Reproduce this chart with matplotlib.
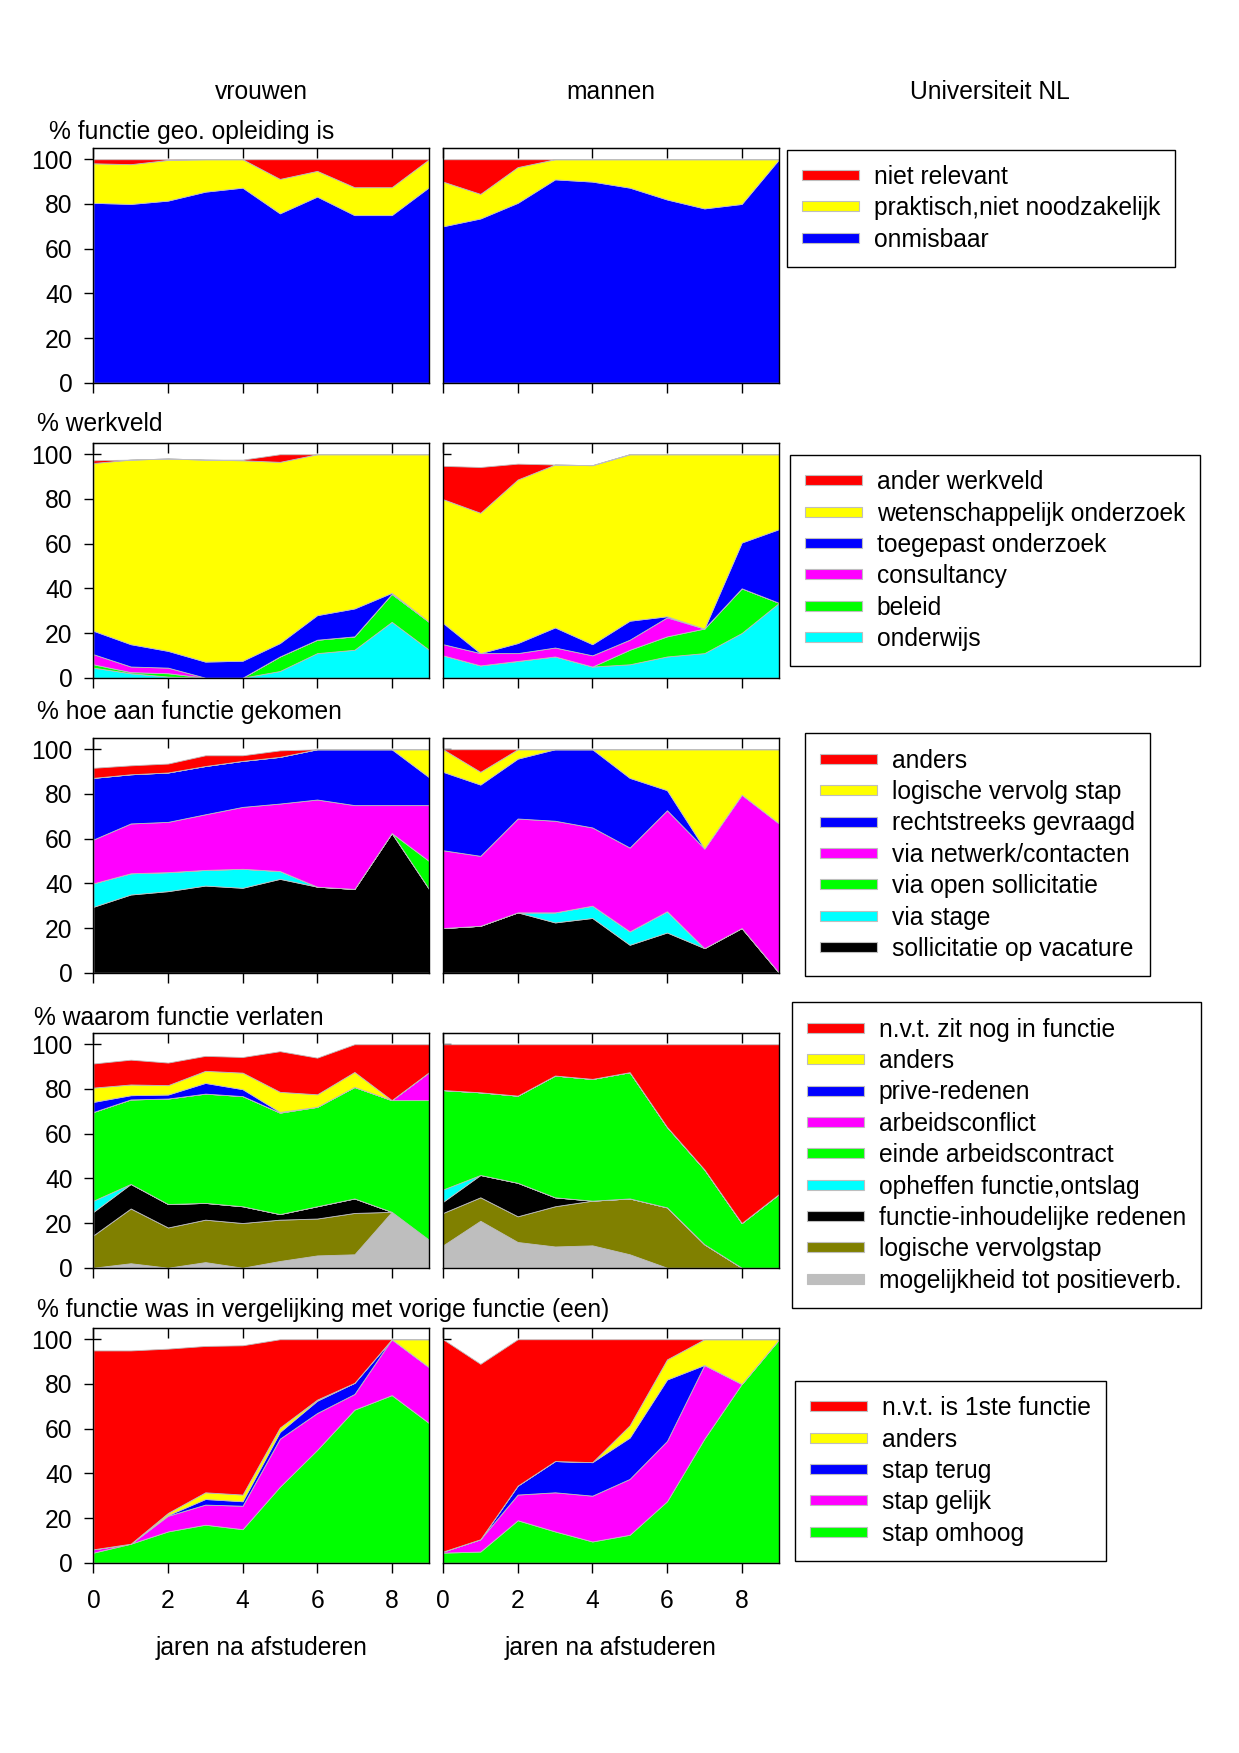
import numpy as np
import matplotlib
matplotlib.use('Agg')
import matplotlib.pyplot as plt
from matplotlib.patches import Patch

plt.rcParams['font.family'] = ['Liberation Sans', 'DejaVu Sans']

years = np.arange(10)  # jaren na afstuderen 0..9

# --- % functie geo. opleiding is (onder -> boven)
lab1 = ['onmisbaar', 'praktisch,niet noodzakelijk', 'niet relevant']
col1 = ['#0000ff', '#ffff00', '#ff0000']
v1_onmisbaar = [80.5, 80.0, 81.5, 85.5, 87.3, 75.8, 83.3, 75.0, 75.0, 87.5]
v1_praktisch = [17.7, 17.8, 18.2, 14.5, 12.7, 15.4, 11.5, 12.5, 12.5, 12.5]
v1_niet = [1.8, 2.2, 0.3, 0, 0, 8.8, 5.2, 12.5, 12.5, 0]
m1_onmisbaar = [70.0, 73.5, 80.5, 91.0, 90.0, 87.3, 82.0, 78.0, 80.0, 100]
m1_praktisch = [20.0, 11.0, 16.0, 9.0, 10.0, 12.7, 18.0, 22.0, 20.0, 0]
m1_niet = [10.0, 15.5, 3.5, 0, 0, 0, 0, 0, 0, 0]

# --- % werkveld
lab2 = ['onderwijs', 'beleid', 'consultancy', 'toegepast onderzoek',
        'wetenschappelijk onderzoek', 'ander werkveld']
col2 = ['#00ffff', '#00ff00', '#ff00ff', '#0000ff', '#ffff00', '#ff0000']
v2_onderwijs = [4.5, 2.0, 0.5, 0, 0, 3.0, 11.0, 12.5, 25.0, 12.5]
v2_beleid = [1.5, 0.5, 1.5, 0, 0, 6.5, 6.0, 6.0, 12.5, 12.5]
v2_consultancy = [4.5, 2.5, 2.5, 0, 0, 0, 0, 0, 0, 0]
v2_toegepast = [10.5, 10.0, 7.5, 7.2, 7.6, 6.0, 11.0, 12.5, 0.5, 0]
v2_wetensch = [75.1, 82.6, 86.1, 90.4, 89.7, 81.1, 72.0, 69.0, 62.0, 75.0]
v2_ander = [1.2, 0, 0, 0, 0.3, 3.4, 0, 0, 0, 0]
m2_onderwijs = [10.0, 5.5, 7.5, 9.5, 5.0, 6.0, 9.5, 11.0, 20.0, 33.5]
m2_beleid = [0, 0, 0, 0, 0, 6.5, 9.0, 11.0, 20.0, 0]
m2_consultancy = [5.0, 5.5, 3.5, 4.0, 5.0, 4.5, 8.5, 0, 0, 0]
m2_toegepast = [9.5, 0, 4.5, 9.0, 5.0, 8.5, 0.5, 0, 20.5, 33.0]
m2_wetensch = [55.4, 62.8, 73.2, 72.9, 80.1, 74.5, 72.5, 78.0, 39.5, 33.5]
m2_ander = [14.9, 20.5, 7.1, 0, 0, 0, 0, 0, 0, 0]

# --- % hoe aan functie gekomen
lab3 = ['sollicitatie op vacature', 'via stage', 'via open sollicitatie',
        'via netwerk/contacten', 'rechtstreeks gevraagd', 'logische vervolg stap', 'anders']
col3 = ['#000000', '#00ffff', '#00ff00', '#ff00ff', '#0000ff', '#ffff00', '#ff0000']
v3_vacature = [29.5, 35.0, 36.5, 39.0, 38.0, 42.0, 38.5, 37.5, 62.5, 37.5]
v3_stage = [10.5, 9.5, 8.5, 7.0, 8.5, 3.5, 0, 0, 0, 0]
v3_open = [0, 0, 0, 0, 0, 0, 0, 0, 0, 12.5]
v3_netwerk = [19.6, 22.3, 22.5, 24.9, 27.7, 30.2, 39.0, 37.5, 12.5, 25.0]
v3_rechtstreeks = [27.6, 22.0, 22.1, 21.6, 20.6, 20.9, 22.5, 25.0, 25.0, 12.5]
v3_logisch = [0, 0, 0, 0, 0, 0, 0, 0, 0, 12.5]
v3_anders = [4.5, 4.0, 4.0, 4.8, 2.5, 2.9, 0, 0, 0, 0]
m3_vacature = [20.0, 21.0, 27.0, 22.5, 24.5, 12.5, 18.0, 11.0, 20.0, 0]
m3_stage = [0, 0, 0, 4.5, 5.5, 6.0, 9.5, 0, 0, 0]
m3_open = [0, 0, 0, 0, 0, 0, 0, 0, 0, 0]
m3_netwerk = [34.8, 31.3, 42.0, 41.0, 35.0, 37.5, 45.2, 44.6, 59.7, 66.8]
m3_rechtstreeks = [35.1, 31.9, 26.8, 32.0, 35.0, 31.2, 9.0, 0, 0, 0]
m3_logisch = [10.1, 5.7, 4.2, 0, 0, 12.8, 18.3, 44.4, 20.3, 33.2]
m3_anders = [0, 10.1, 0, 0, 0, 0, 0, 0, 0, 0]

# --- % waarom functie verlaten
lab4 = ['mogelijkheid tot positieverb.', 'logische vervolgstap', 'functie-inhoudelijke redenen',
        'opheffen functie,ontslag', 'einde arbeidscontract', 'arbeidsconflict',
        'prive-redenen', 'anders', 'n.v.t. zit nog in functie']
col4 = ['#bebebe', '#808000', '#000000', '#00ffff', '#00ff00', '#ff00ff',
        '#0000ff', '#ffff00', '#ff0000']
v4_positie = [0, 2.0, 0, 2.5, 0, 3.0, 5.5, 6.0, 25.0, 12.5]
v4_logisch = [14.5, 24.5, 18.0, 19.0, 20.0, 18.5, 16.5, 18.5, 0, 0]
v4_inhoud = [10.5, 11.0, 10.5, 7.5, 7.5, 2.5, 5.5, 6.5, 0, 0]
v4_opheffen = [5.0, 0, 0, 0, 0, 0, 0, 0, 0, 0]
v4_einde = [39.7, 37.8, 47.2, 48.9, 49.3, 45.4, 44.5, 49.9, 50.0, 62.5]
v4_conflict = [0, 0, 0, 0, 0, 0, 0, 0, 0, 12.5]
v4_prive = [4.5, 1.9, 1.8, 4.8, 3.1, 0.3, 0, 0, 0, 0]
v4_anders = [6.4, 4.8, 4.2, 5.4, 7.4, 9.0, 5.6, 6.7, 0, 0]
v4_nvt = [10.8, 11.1, 10.1, 6.7, 7.0, 18.2, 16.4, 12.4, 25.0, 12.5]
m4_positie = [10.0, 21.0, 11.5, 9.5, 10.0, 6.0, 0, 0, 0, 0]
m4_logisch = [14.5, 10.5, 11.5, 18.0, 20.0, 25.0, 27.0, 10.5, 0, 0]
m4_inhoud = [5.0, 10.0, 15.0, 4.0, 0, 0, 0, 0, 0, 0]
m4_opheffen = [5.5, 0, 0, 0, 0, 0, 0, 0, 0, 0]
m4_einde = [44.5, 37.0, 39.0, 54.5, 54.5, 56.5, 36.0, 33.5, 20.0, 33.0]
m4_conflict = [0, 0, 0, 0, 0, 0, 0, 0, 0, 0]
m4_prive = [0, 0, 0, 0, 0, 0, 0, 0, 0, 0]
m4_anders = [0, 0, 0, 0, 0, 0, 0, 0, 0, 0]
m4_nvt = [20.5, 21.5, 23.0, 14.0, 15.5, 12.5, 37.0, 56.0, 80.0, 67.0]

# --- % functie was in vergelijking met vorige functie (een)
lab5 = ['stap omhoog', 'stap gelijk', 'stap terug', 'anders', 'n.v.t. is 1ste functie']
col5 = ['#00ff00', '#ff00ff', '#0000ff', '#ffff00', '#ff0000']
v5_omhoog = [4.5, 8.5, 14.0, 17.0, 15.0, 34.0, 50.5, 68.5, 75.0, 62.5]
v5_gelijk = [1.5, 0, 7.0, 9.0, 10.5, 21.5, 16.5, 7.0, 25.0, 25.0]
v5_terug = [0, 0, 0.3, 2.5, 2.0, 3.0, 5.5, 5.0, 0, 0]
v5_anders = [0, 0, 1.0, 3.0, 3.0, 2.0, 0.5, 0, 0, 12.5]
v5_nvt = [89.0, 86.5, 73.5, 65.5, 66.8, 39.5, 27.0, 19.5, 0, 0]
m5_omhoog = [4.5, 5.0, 19.0, 14.0, 9.5, 12.5, 27.5, 55.5, 80.0, 100]
m5_gelijk = [0.5, 5.5, 11.5, 17.5, 20.5, 25.0, 27.0, 33.0, 0, 0]
m5_terug = [0, 0, 4.0, 14.0, 15.0, 18.5, 27.5, 0, 0, 0]
m5_anders = [0, 0, 0, 0, 0, 5.5, 9.0, 11.5, 20.0, 0]
m5_nvt = [95.0, 78.5, 65.5, 54.5, 55.0, 38.5, 9.0, 0, 0, 0]

rows = [
    ('% functie geo. opleiding is', lab1, col1,
     [v1_onmisbaar, v1_praktisch, v1_niet], [m1_onmisbaar, m1_praktisch, m1_niet]),
    ('% werkveld', lab2, col2,
     [v2_onderwijs, v2_beleid, v2_consultancy, v2_toegepast, v2_wetensch, v2_ander],
     [m2_onderwijs, m2_beleid, m2_consultancy, m2_toegepast, m2_wetensch, m2_ander]),
    ('% hoe aan functie gekomen', lab3, col3,
     [v3_vacature, v3_stage, v3_open, v3_netwerk, v3_rechtstreeks, v3_logisch, v3_anders],
     [m3_vacature, m3_stage, m3_open, m3_netwerk, m3_rechtstreeks, m3_logisch, m3_anders]),
    ('% waarom functie verlaten', lab4, col4,
     [v4_positie, v4_logisch, v4_inhoud, v4_opheffen, v4_einde, v4_conflict, v4_prive, v4_anders, v4_nvt],
     [m4_positie, m4_logisch, m4_inhoud, m4_opheffen, m4_einde, m4_conflict, m4_prive, m4_anders, m4_nvt]),
    ('% functie was in vergelijking met vorige functie (een)', lab5, col5,
     [v5_omhoog, v5_gelijk, v5_terug, v5_anders, v5_nvt],
     [m5_omhoog, m5_gelijk, m5_terug, m5_anders, m5_nvt]),
]

# layout in pixels
W, H = 1239, 1753
FS = 17.7
row_top = [148.3, 443.3, 738.3, 1033.3, 1328.3]
row_h = 234.4
cols = [(93.4, 335.6), (443.0, 336.0)]
title_xy = [(49, 131.7), (37, 424), (37, 711.7), (34, 1018), (37, 1310)]
leg_xy = [(787, 149.7), (790, 455), (805, 733.4), (792, 1002.4), (795, 1381)]

fig = plt.figure(figsize=(W / 100, H / 100), dpi=100)

for r, (title, labels, colors, vdata, mdata) in enumerate(rows):
    for c, data in enumerate([vdata, mdata]):
        x0, w = cols[c]
        ax = fig.add_axes([x0 / W, 1 - (row_top[r] + row_h) / H, w / W, row_h / H])
        ax.stackplot(years, *data, colors=colors, edgecolor='#bebebe', linewidth=0.6)
        ax.set_xlim(0, 9)
        ax.set_ylim(0, 104.9)
        for s in ax.spines.values():
            s.set_linewidth(1.0)
        ax.set_xticks([0, 2, 4, 6, 8])
        ax.tick_params(axis='x', direction='out', length=7.2, width=1.0,
                       labelsize=FS, pad=12)
        if r < 4:
            ax.tick_params(axis='x', labelbottom=False)
        else:
            ax.set_xlabel('jaren na afstuderen', fontsize=FS, labelpad=16)
        top = ax.secondary_xaxis('top')
        top.set_xticks([0, 2, 4, 6, 8])
        top.tick_params(direction='in', length=7, width=1.0, labeltop=False)
        if c == 0:
            ax.set_yticks([0, 20, 40, 60, 80, 100])
            ax.tick_params(axis='y', direction='out', length=6.5, width=1.0,
                           labelsize=FS, pad=8.5)
        else:
            ax.set_yticks([])
        if r > 0:
            inner = ax.secondary_yaxis('left')
            inner.set_yticks([100])
            inner.tick_params(direction='in', length=6, width=1.0, labelleft=False)
            inner.spines['left'].set_visible(False)

    fig.text(title_xy[r][0] / W, 1 - title_xy[r][1] / H, title, fontsize=FS,
             ha='left', va='center')

    handles = [Patch(facecolor=col, edgecolor='#bebebe', linewidth=0.8)
               for col in colors[::-1]]
    lx, ly = leg_xy[r]
    leg = fig.legend(handles, labels[::-1], loc='upper left',
                     bbox_to_anchor=(lx / W, 1 - ly / H), bbox_transform=fig.transFigure,
                     borderaxespad=0, fontsize=FS, frameon=True, fancybox=False,
                     edgecolor='black', framealpha=1, borderpad=0.62,
                     labelspacing=0.3, handlelength=2.3, handleheight=0.25,
                     handletextpad=0.6)
    leg.get_frame().set_linewidth(1.0)

fig.text(261 / W, 1 - 91.7 / H, 'vrouwen', fontsize=FS, ha='center', va='center')
fig.text(611 / W, 1 - 91.7 / H, 'mannen', fontsize=FS, ha='center', va='center')
fig.text(990 / W, 1 - 92.4 / H, 'Universiteit NL', fontsize=FS, ha='center', va='center')

fig.savefig('out.png', dpi=100, facecolor='white')
